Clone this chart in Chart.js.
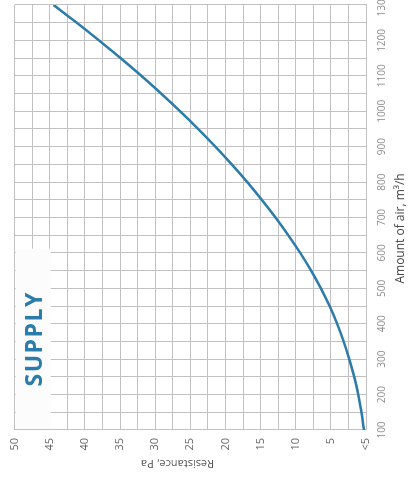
<!DOCTYPE html>
<html>
<head>
<meta charset="utf-8">
<script src="https://cdn.jsdelivr.net/npm/chart.js@4"></script>
<style>
    html, body { margin: 0; padding: 0; background: #fff; overflow: hidden; width: 408px; height: 477px; }
    #wrap {
        position: absolute; left: 0; top: 0;
        width: 500px; height: 408px;
        transform-origin: 0 0;
        transform: translate(0, 477px) rotate(-90deg);
    }
</style>
</head>
<body>
<div id="wrap"></div>
<script>
// air flow, m3/h  -> resistance, Pa
const airFlow = [100, 150, 200, 250, 300, 350, 400, 450, 500, 550, 600, 650, 700,
                 750, 800, 850, 900, 950, 1000, 1050, 1100, 1150, 1200, 1250, 1300];
const resistance = [0.3, 0.65, 1.1, 1.68, 2.38, 3.18, 4.11, 5.19, 6.42, 7.8, 9.35, 11.05, 12.88,
                     14.83, 16.9, 19.1, 21.43, 23.88, 26.45, 29.15, 31.97, 34.92, 37.99, 41.17, 44.45];

const flowTickValues = [100, 200, 300, 400, 500, 600, 700, 800, 900, 1000, 1100, 1200, 1300];
const flowTickLabels = ['100', '200', '300', '400', '500', '600', '700', '800', '900', '1000', '1100', '1200', '1300'];
const pressureTickValues = [0, 5, 10, 15, 20, 25, 30, 35, 40, 45, 50];
const pressureTickLabels = ['<5', '5', '10', '15', '20', '25', '30', '35', '40', '45', '50'];

document.addEventListener("DOMContentLoaded", function() {
    const ctx = document.createElement('canvas');
    ctx.width = 500;
    ctx.height = 408;
    document.getElementById('wrap').appendChild(ctx);

    const gridColor = '#c2c0c0';
    const blue = '#2b7bab';

    // white "SUPPLY" panel in the upper corner of the grid
    const supplyPanel = {
        id: 'supplyPanel',
        beforeDatasetsDraw(chart) {
            const c = chart.ctx;
            const x = chart.scales.x, y = chart.scales.y;
            const l = x.getPixelForValue(100) + 1, r = x.getPixelForValue(612);
            const t = y.getPixelForValue(50) + 1, b = y.getPixelForValue(44.85);
            c.save();
            c.fillStyle = '#fcfcfc';
            c.fillRect(l, t, r - l, b - t);
            c.fillStyle = blue;
            c.font = 'bold 23px "Open Sans"';
            c.letterSpacing = '1.5px';
            c.textAlign = 'center';
            c.textBaseline = 'alphabetic';
            c.fillText('SUPPLY', (l + r) / 2, (t + b) / 2 + 8.5);
            c.restore();
        }
    };

    const data = {
        datasets: [{
            label: 'Supply',
            data: airFlow.map((f, i) => ({ x: f, y: resistance[i] })),
            borderColor: blue,
            borderWidth: 2.5,
            pointRadius: 0,
            fill: false,
            tension: 0.4
        }]
    };

    const options = {
        responsive: false,
        animation: false,
        devicePixelRatio: 1,
        layout: { padding: { top: 13, right: 28, left: 0, bottom: 0 } },
        scales: {
            x: {
                type: 'linear',
                position: 'bottom',
                min: 100,
                max: 1300,
                ticks: {
                    stepSize: 50,
                    autoSkip: false,
                    maxRotation: 0,
                    minRotation: 0,
                    padding: 10,
                    color: '#8c8c8c',
                    font: { family: 'Open Sans', size: 10 },
                    callback: function(value) {
                        const i = flowTickValues.indexOf(value);
                        return i >= 0 ? flowTickLabels[i] : '';
                    }
                },
                grid: { color: gridColor, lineWidth: 1, drawTicks: false },
                border: { color: gridColor },
                title: {
                    display: true,
                    text: 'Amount of air, m³/h       ',
                    color: '#444',
                    font: { family: 'Open Sans', size: 12 },
                    padding: { top: 0, bottom: 0 }
                },
                afterFit: function(scale) { scale.height = 42; }
            },
            y: {
                type: 'linear',
                min: 0,
                max: 50,
                ticks: {
                    stepSize: 2.5,
                    autoSkip: false,
                    padding: 8,
                    color: '#666',
                    font: { family: 'Open Sans', size: 11 },
                    callback: function(value) {
                        const i = pressureTickValues.indexOf(value);
                        return i >= 0 ? pressureTickLabels[i] : '';
                    }
                },
                grid: { color: gridColor, lineWidth: 1, drawTicks: false },
                border: { color: gridColor },
                title: {
                    display: true,
                    text: '         Resistance, Pa',
                    color: '#555',
                    font: { family: 'Open Sans', size: 11 },
                    padding: { top: 7, bottom: 0 }
                },
                afterFit: function(scale) { scale.width = 47; }
            }
        },
        plugins: {
            legend: { display: false },
            tooltip: { enabled: false }
        }
    };

    new Chart(ctx, {
        type: 'line',
        data: data,
        options: options,
        plugins: [supplyPanel]
    });
});
</script>
</body>
</html>
